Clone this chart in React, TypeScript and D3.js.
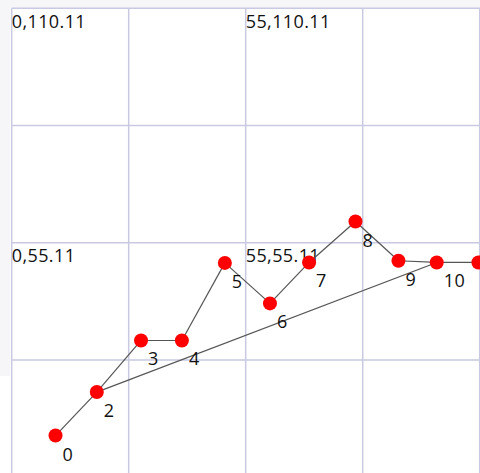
import React from "react";
import * as d3 from "d3";

const pointIds = [0, 2, 3, 4, 5, 6, 7, 8, 9, 10, 11];
const pointX = [10.3, 20.0, 30.4, 40.0, 50.1, 60.7, 69.9, 80.8, 90.9, 99.9, 109.7];
const pointY = [9.9, 20.1, 32.2, 32.2, 50.4, 40.9, 50.5, 60.1, 50.9, 50.5, 50.5];
const pointLabels = ["0", "2", "3", "4", "5", "6", "7", "8", "9", "10", ""];
const edges: [number, number][] = [
  [0, 2], [2, 3], [3, 4], [4, 5], [5, 6], [6, 7], [7, 8], [8, 9], [9, 10], [10, 11], [2, 10],
];
const gridX = [0, 27.5, 55, 82.5, 110];
const gridY = [110.11, 82.61, 55.11, 27.61, 0.11];
const labelX = [0, 55];
const labelY = [110.11, 55.11];

const W = 480;
const H = 473;

export default function App() {
  const x = d3.scaleLinear().domain([0, 110]).range([11.7, 479.7]);
  const y = d3.scaleLinear().domain([0.11, 110.11]).range([477.3, 8.3]);
  const pos = new Map<number, [number, number]>();
  pointIds.forEach((id, i) => pos.set(id, [x(pointX[i]), y(pointY[i])]));
  const font = "'Open Sans', sans-serif";
  return (
    <svg
      width={W}
      height={H}
      style={{ position: "fixed", left: 0, top: 0, background: "#fff" }}
    >
      <rect x={0} y={0} width={W} height={8} fill="#f6f6f8" />
      <rect x={0} y={0} width={10} height={376} fill="#f6f6f8" />
      <rect x={11.7} y={8.3} width={W} height={H} fill="#fff" />
      {gridX.map((g) => (
        <line key={"gx" + g} x1={x(g)} x2={x(g)} y1={8.3} y2={H} stroke="#c9c9e2" strokeWidth={1.5} />
      ))}
      {gridY.map((g) => (
        <line key={"gy" + g} x1={11.7} x2={W} y1={y(g)} y2={y(g)} stroke="#c9c9e2" strokeWidth={1.5} />
      ))}
      {labelY.map((ly) =>
        labelX.map((lx) => (
          <text
            key={"l" + lx + "_" + ly}
            x={x(lx)}
            y={y(ly) + 19.5}
            fontFamily={font}
            fontSize={18}
            letterSpacing={0.4}
            fontWeight={500}
            fill="#111"
          >
            {`${lx},${ly}`}
          </text>
        ))
      )}
      {edges.map(([a, b], i) => {
        const pa = pos.get(a)!;
        const pb = pos.get(b)!;
        return (
          <line key={"e" + i} x1={pa[0]} y1={pa[1]} x2={pb[0]} y2={pb[1]} stroke="#555" strokeWidth={1.2} />
        );
      })}
      {pointIds.map((id) => {
        const p = pos.get(id)!;
        return <circle key={"c" + id} cx={p[0]} cy={p[1]} r={7} fill="#ff0000" />;
      })}
      {pointIds.map((id, i) => {
        const p = pos.get(id)!;
        return (
          <text
            key={"t" + id}
            x={p[0] + 7}
            y={p[1] + 25}
            fontFamily={font}
            fontSize={18}
            letterSpacing={0.4}
            fontWeight={500}
            fill="#111"
          >
            {pointLabels[i]}
          </text>
        );
      })}
    </svg>
  );
}
